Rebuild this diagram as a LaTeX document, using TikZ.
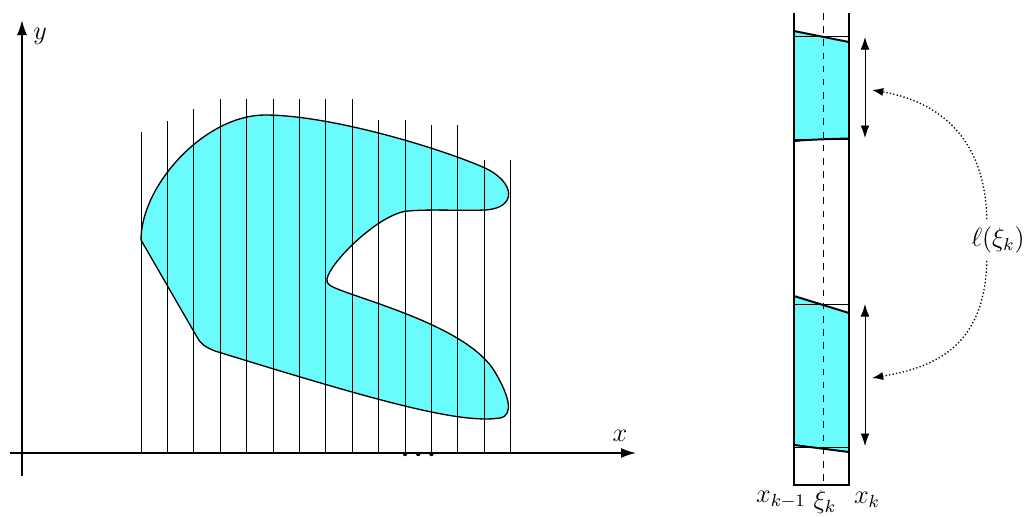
\documentclass[tikz,border=0pt]{standalone}
\usepackage{amsmath}
\usetikzlibrary{arrows.meta,positioning}
\definecolor{regioncyan}{RGB}{106,252,252}
\begin{document}
\begin{tikzpicture}[x=0.016cm, y=-0.016cm, font=\large,
		axis/.style = {thick, -{Latex[length=2.4mm,width=1.6mm]}},
		outline/.style = {line width=0.6pt},
		stripline/.style = {line width=0.9pt},
		approx/.style = {line width=0.3pt},
		lenarrow/.style = {thin, {Latex[length=2mm,width=1.4mm]}-{Latex[length=2mm,width=1.4mm]}},
		pointer/.style = {densely dotted, semithick, -{Latex[length=1.8mm,width=1.3mm]}}]
		\useasboundingbox (0,0) rectangle (1025,516);
		% the region
		\filldraw[fill=regioncyan, outline] (141,240) .. controls (141,185) and (205,115) .. (265,115)
			.. controls (330,115) and (440,148) .. (485,168)
			.. controls (515,182) and (518,208) .. (485,210)
			.. controls (460,211) and (430,209) .. (408,211)
			.. controls (380,213) and (330,262) .. (327,279)
			.. controls (326,284) and (330,286) .. (340,290)
			.. controls (380,305) and (470,330) .. (495,372)
			.. controls (508,394) and (515,415) .. (500,418)
			.. controls (460,424) and (380,402) .. (215,351)
			.. controls (205,347) and (201,344) .. (197,337) -- cycle;
		% vertical slices
		\foreach \i/\h in {0/132,1/121,2/109,3/99,4/99,5/99,6/99,7/99,8/99,9/120,10/120,11/125,12/125,13/160,14/160}
			\draw[thin] ({141+26.4*\i},453) -- ({141+26.4*\i},\h);
		\draw[approx] (141,452) -- (167.4,452);
		\draw[approx] (220.2,452) -- (246.6,452);
		% axes
		\draw[axis] (22,476) -- (22,20) node (ylab) [below right = 0mm and 0.5mm] {$y$};
		\draw[axis] (10,453) -- (636,453);
		\node (xlab) at (620,436) {$x$};
		\foreach \px in {405,418.2,431.4}
			\fill (\px,454) circle (2.2);
		% the strip
		\fill[regioncyan] (794,31) -- (849,42) -- (849,138.5) .. controls (830,139) and (810,139.5) .. (794,141) -- cycle;
		\fill[regioncyan] (794,296) -- (849,313) -- (849,452) -- (794,445) -- cycle;
		\draw[approx] (794,36.7) -- (849,36.7);
		\draw[approx] (794,139.5) -- (849,139.5);
		\draw[approx] (794,304) -- (849,304);
		\draw[approx] (794,447.7) -- (849,447.7);
		\draw[stripline] (794,31) -- (849,42);
		\draw[stripline] (794,141) .. controls (810,139.5) and (830,139) .. (849,138.5);
		\draw[stripline] (794,296) -- (849,313);
		\draw[stripline] (794,445) -- (849,452);
		\draw[dashed, thin] (823,13) -- (823,485);
		\draw[stripline] (794,13) -- (794,485) -- (849,485) -- (849,13);
		\node (xkm) at (781,500) {$x_{k-1}$};
		\node (xik) at (825,502) {$\xi_k$};
		\node (xk) at (867,500) {$x_k$};
		% lengths
		\coordinate (up1) at (865,37);
		\coordinate (up2) at (865,138);
		\coordinate (lo1) at (865,304);
		\coordinate (lo2) at (865,446);
		\draw[lenarrow] (up1) -- (up2);
		\draw[lenarrow] (lo1) -- (lo2);
		\node (len) at (998,240) {$\ell(\xi_k)$};
		\coordinate (tipup) at (872,90);
		\coordinate (tiplo) at (872,378);
		\draw[pointer] ([xshift=-1.8mm]len.north) .. controls (985,130) and (930,100) .. (tipup);
		\draw[pointer] ([xshift=-1.8mm]len.south) .. controls (985,350) and (930,368) .. (tiplo);
	\end{tikzpicture}
\end{document}
